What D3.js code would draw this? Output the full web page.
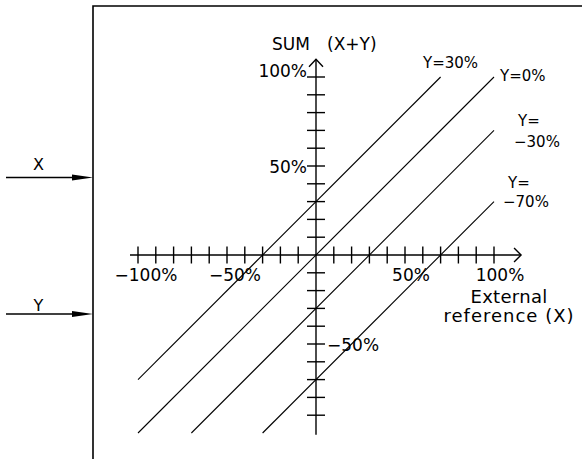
<!DOCTYPE html>
<html>
<head>
<meta charset="utf-8">
<script src="https://cdn.jsdelivr.net/npm/d3@7"></script>
<style>
  html, body { margin: 0; padding: 0; background: #fff; }
  svg { display: block; }
  text { font-family: "DejaVu Sans", sans-serif; fill: #000; }
</style>
</head>
<body>
<svg id="chart" width="582" height="459"></svg>
<script>
// ---- data ----
const xTickValues = [-100, -90, -80, -70, -60, -50, -40, -30, -20, -10, 10, 20, 30, 40, 50, 60, 70, 80, 90, 100];
const yTickValues = [-90, -80, -70, -60, -50, -40, -30, -20, -10, 10, 20, 30, 40, 50, 60, 70, 80, 90, 100];
const xTickLabels = [["−100%", -100], ["−50%", -50], ["50%", 50], ["100%", 100]];
const yTickLabels = [["100%", 100], ["50%", 50], ["−50%", -50]];
const seriesNames = ["Y=30%", "Y=0%", "Y=−30%", "Y=−70%"];
const seriesY = [30, 0, -30, -70];           // SUM = X + Y
const seriesXStart = [-100, -100, -70, -30];  // external reference X where each line starts
const seriesXEnd = [70, 100, 100, 100];       // and where it ends
const inputNames = ["X", "Y"];

// ---- layout ----
const svg = d3.select("#chart");
const x = d3.scaleLinear().domain([-100, 100]).range([138, 494]);
const y = d3.scaleLinear().domain([-100, 100]).range([433, 77]);
const x0 = x(0), y0 = y(0);

// box (left and top edges)
svg.append("path")
  .attr("d", `M93,459 L93,6 L582,6`)
  .attr("fill", "none").attr("stroke", "#000").attr("stroke-width", 1.6);

// input arrows X, Y
const inputY = [177.5, 314];
inputNames.forEach((n, i) => {
  const yy = inputY[i];
  svg.append("line").attr("x1", 6).attr("x2", 80).attr("y1", yy).attr("y2", yy)
    .attr("stroke", "#000").attr("stroke-width", 1.4);
  svg.append("path").attr("d", `M93,${yy} L72,${yy - 3} L72,${yy + 3} Z`).attr("fill", "#000");
  svg.append("text").attr("x", 38.5).attr("y", i === 0 ? 169.5 : 311)
    .attr("text-anchor", "middle").attr("font-size", 16).text(n);
});

// axes
const axisG = svg.append("g").attr("stroke", "#000").attr("fill", "none").attr("stroke-width", 1.4);
axisG.append("line").attr("x1", x(-104.5)).attr("x2", x(115.2)).attr("y1", y0).attr("y2", y0);
axisG.append("path").attr("d", `M${x(115.2) - 7},${y0 - 7} L${x(115.2)},${y0} L${x(115.2) - 7},${y0 + 7}`);
axisG.append("line").attr("x1", x0).attr("x2", x0).attr("y1", y(-101)).attr("y2", y(110));
axisG.append("path").attr("d", `M${x0 - 7},${y(110) + 7.5} L${x0},${y(110)} L${x0 + 7},${y(110) + 7.5}`);

axisG.selectAll(".xt").data(xTickValues).enter().append("line")
  .attr("x1", d => x(d)).attr("x2", d => x(d)).attr("y1", y0 - 8.5).attr("y2", y0 + 8.5);
axisG.selectAll(".yt").data(yTickValues).enter().append("line")
  .attr("y1", d => y(d)).attr("y2", d => y(d)).attr("x1", x0 - 9).attr("x2", x0 + 9);

// tick labels
svg.selectAll(".xl").data(xTickLabels).enter().append("text")
  .attr("x", d => x(d[1]) + (d[1] < 0 ? 8 : 6)).attr("y", y0 + 26)
  .attr("text-anchor", "middle").attr("font-size", 17).text(d => d[0]);
svg.selectAll(".yl").data(yTickLabels).enter().append("text")
  .attr("x", d => d[1] > 0 ? x0 - 9 : x0 + 11)
  .attr("y", d => d[1] === 100 ? y(d[1]) : y(d[1]) + 7)
  .attr("text-anchor", d => d[1] > 0 ? "end" : "start")
  .attr("font-size", 17).text(d => d[0]);

// axis titles
const sumT = svg.append("text").attr("y", 50).attr("font-size", 17);
sumT.append("tspan").attr("x", 272).text("SUM");
sumT.append("tspan").attr("x", 327).text("(X+Y)");
svg.append("text").attr("x", 509).attr("y", 302.5).attr("text-anchor", "middle")
  .attr("font-size", 18).attr("letter-spacing", 0.3).text("External");
svg.append("text").attr("x", 509).attr("y", 322).attr("text-anchor", "middle")
  .attr("font-size", 18).attr("letter-spacing", 1).text("reference (X)");

// diagonal lines SUM = X + Y
svg.selectAll(".series").data(seriesY).enter().append("line")
  .attr("x1", (d, i) => x(seriesXStart[i])).attr("y1", (d, i) => y(seriesXStart[i] + d))
  .attr("x2", (d, i) => x(seriesXEnd[i])).attr("y2", (d, i) => y(seriesXEnd[i] + d))
  .attr("stroke", "#000").attr("stroke-width", 1.1);

// series labels, placed near line ends
const labelOffsets = [
  { dx: 10, dy: -9, anchor: "middle" },
  { dx: 6, dy: 4, anchor: "start" },
  { dx: 24, dy: -4, anchor: "start", second: { dx: 20, dy: 17 } },
  { dx: 14, dy: -14, anchor: "start", second: { dx: 9, dy: 5 } }
];
seriesNames.forEach((name, i) => {
  const ex = x(seriesXEnd[i]), ey = y(seriesXEnd[i] + seriesY[i]);
  const o = labelOffsets[i];
  if (o.second) {
    const parts = name.split("=");
    svg.append("text").attr("x", ex + o.dx).attr("y", ey + o.dy).attr("font-size", 15).text(parts[0] + "=");
    svg.append("text").attr("x", ex + o.second.dx).attr("y", ey + o.second.dy).attr("font-size", 15).text(parts[1]);
  } else {
    svg.append("text").attr("x", ex + o.dx).attr("y", ey + o.dy).attr("text-anchor", o.anchor)
      .attr("font-size", 15).text(name);
  }
});
</script>
</body>
</html>
